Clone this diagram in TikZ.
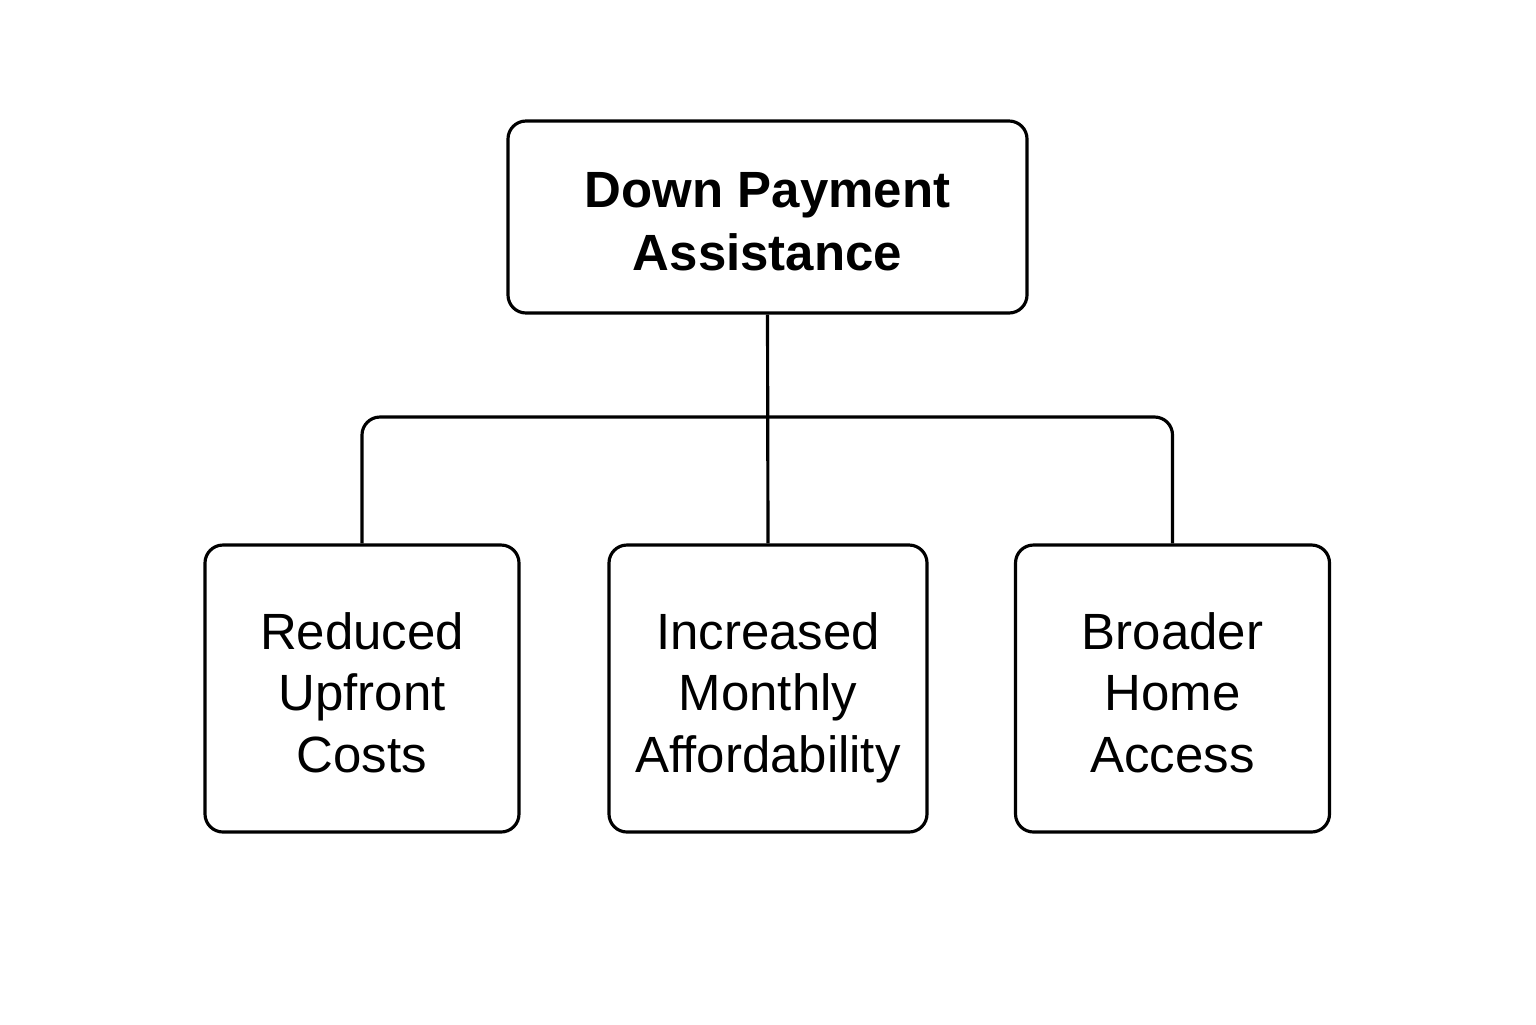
\documentclass[tikz,border=0pt]{standalone}
\usepackage{fontspec}
\setmainfont{Liberation Sans}
\usepackage{tikz}
\usetikzlibrary{positioning}
\newcommand{\highstrut}{\rule{0pt}{18pt}}

\begin{document}
\begin{tikzpicture}[
    box/.style={draw, line width=0.9pt, rounded corners=0.18cm, inner sep=0pt, align=center},
    topbox/.style={box, minimum width=5.19cm, minimum height=1.92cm,
      font=\fontsize{14.5pt}{18pt}\selectfont\bfseries},
    leafbox/.style={box, minimum width=3.14cm, minimum height=2.87cm,
      font=\fontsize{14.5pt}{17.6pt}\selectfont},
    link/.style={line width=0.9pt}
  ]
  \useasboundingbox (0,0) rectangle (15.36,-10.24);
  % root
  \node[topbox] (DPA) at (7.675,-2.17) {\highstrut Down Payment\\Assistance\strut};
  % effects
  \node[leafbox] (Costs) at (3.62,-6.885) {\highstrut Reduced\\Upfront\\Costs\strut};
  \node[leafbox, minimum width=3.18cm] (Monthly) at (7.68,-6.885) {\highstrut Increased\\Monthly\\Affordability\strut};
  \node[leafbox] (Access) at (11.725,-6.885) {\highstrut Broader\\Home\\Access\strut};
  % connectors
  \coordinate (bus) at (7.68,-4.17);
  \draw[link] (DPA.south) -- (Monthly.north);
  \draw[link, rounded corners=0.18cm] (Costs.north) |- (bus) -| (Access.north);
\end{tikzpicture}
\end{document}
